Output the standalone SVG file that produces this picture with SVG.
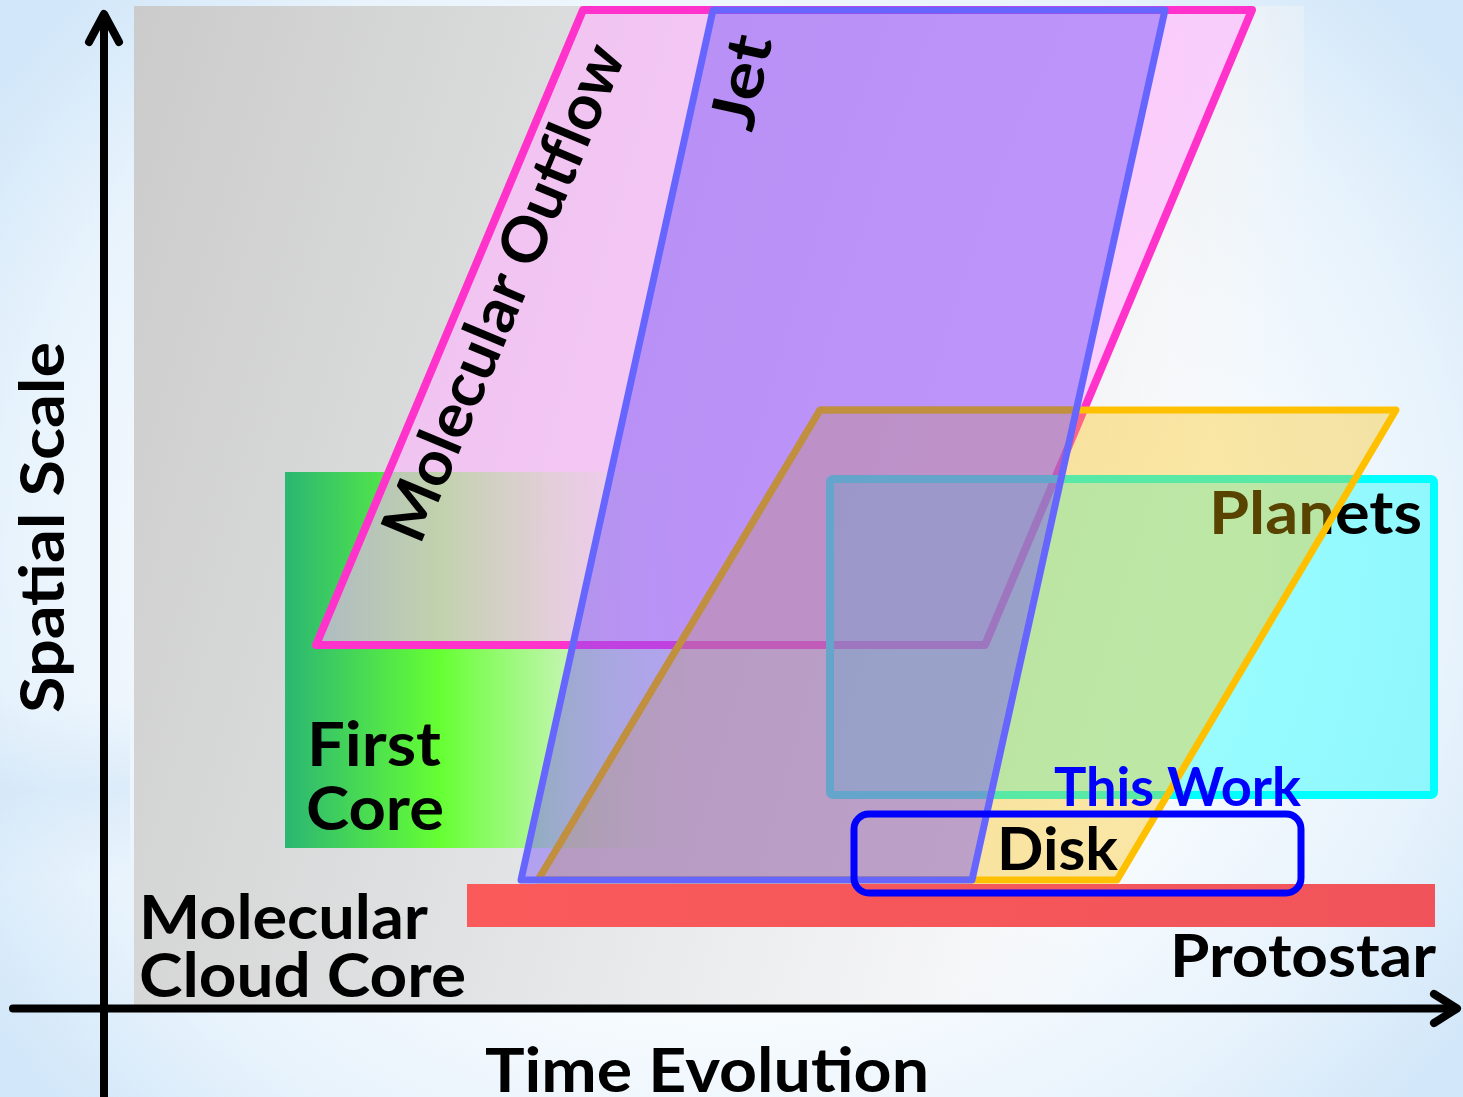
<svg xmlns="http://www.w3.org/2000/svg" width="1463" height="1097" viewBox="0 0 1463 1097">
  <defs>
    <radialGradient id="bgGrad" cx="731" cy="560" r="900" gradientUnits="userSpaceOnUse" gradientTransform="translate(731 560) scale(1 0.9) translate(-731 -560)">
      <stop offset="0" stop-color="#ffffff"/>
      <stop offset="0.55" stop-color="#f7fbfe"/>
      <stop offset="0.8" stop-color="#e8f3fc"/>
      <stop offset="1" stop-color="#d2e7f9"/>
    </radialGradient>
    <linearGradient id="bandGrad" x1="0" y1="0" x2="0" y2="1">
      <stop offset="0" stop-color="#c6dff5" stop-opacity="0"/>
      <stop offset="0.5" stop-color="#c6dff5" stop-opacity="0.7"/>
      <stop offset="1" stop-color="#c6dff5" stop-opacity="0"/>
    </linearGradient>
    <linearGradient id="cloudGrad" x1="0" y1="0" x2="1" y2="0.25">
      <stop offset="0" stop-color="#cbcbcb"/>
      <stop offset="0.5" stop-color="#e2e3e4"/>
      <stop offset="0.85" stop-color="#f3f3f4" stop-opacity="0.9"/>
      <stop offset="1" stop-color="#f6f6f6" stop-opacity="0"/>
    </linearGradient>
    <linearGradient id="firstGrad" x1="0" y1="0" x2="1" y2="0">
      <stop offset="0" stop-color="#2bb673"/>
      <stop offset="0.37" stop-color="#66ff33"/>
      <stop offset="0.65" stop-color="#b8f8a0" stop-opacity="0.9"/>
      <stop offset="1" stop-color="#e8f0e8" stop-opacity="0"/>
    </linearGradient>
    <linearGradient id="starGrad" x1="0" y1="0" x2="1" y2="0">
      <stop offset="0" stop-color="#fa5a5a"/>
      <stop offset="1" stop-color="#f0545a"/>
    </linearGradient>
    <clipPath id="jetClip">
      <polygon points="713,10 1165,10 972,880 521,880"/>
    </clipPath>
    <style>
      .lbl { font-family: Lato, "Open Sans", "Liberation Sans", sans-serif; font-weight: bold; fill: #000; }
      .axis { fill: none; stroke: #000; stroke-width: 8; stroke-linecap: round; stroke-linejoin: round; }
      .outflow { fill: #ffb4ff; fill-opacity: 0.6; stroke: #ff33cc; stroke-width: 8; stroke-linejoin: round; }
      .planets { fill: #00ffff; fill-opacity: 0.38; stroke: #00ffff; stroke-width: 8; stroke-linejoin: round; }
      .disk { fill: #ffc000; fill-opacity: 0.35; stroke: #ffc000; stroke-width: 7; stroke-linejoin: round; }
      .jet { fill: #7450f8; fill-opacity: 0.45; stroke: none; }
      .jet-edge { fill: none; stroke: #6666ff; stroke-width: 7; stroke-linejoin: round; }
      .disk-under-jet { fill: none; stroke: #c0903f; stroke-width: 7; stroke-linejoin: round; }
      .thiswork { fill: none; stroke: #0000ff; stroke-width: 7; }
    </style>
  </defs>

  <!-- backdrop -->
  <rect x="0" y="0" width="1463" height="1097" fill="url(#bgGrad)"/>
  <rect x="0" y="700" width="130" height="180" fill="url(#bandGrad)" opacity="0.6"/>

  <!-- molecular cloud core region -->
  <g id="cloud-core">
    <rect x="134" y="6" width="1170" height="1000" fill="url(#cloudGrad)"/>
  </g>

  <!-- first core -->
  <g id="first-core">
    <rect x="285" y="472" width="420" height="376" fill="url(#firstGrad)"/>
  </g>

  <!-- molecular outflow -->
  <g id="outflow">
    <polygon class="outflow" points="583,10 1252,10 985,645 316,645"/>
  </g>

  <!-- planets -->
  <g id="planets">
    <rect class="planets" x="830" y="479" width="604" height="316" rx="3"/>
    <text class="lbl" x="1209" y="534" font-size="60" textLength="213" lengthAdjust="spacingAndGlyphs">Planets</text>
  </g>

  <!-- disk -->
  <g id="disk">
    <polygon class="disk" points="820,410 1396,410 1117,880 538,880"/>
  </g>

  <!-- jet: tinted fill, the disk outline seen through it, then its own edge -->
  <g id="jet">
    <polygon class="jet" points="713,10 1165,10 972,880 521,880"/>
    <g clip-path="url(#jetClip)">
      <polygon class="disk-under-jet" points="820,410 1396,410 1117,880 538,880"/>
    </g>
    <polygon class="jet-edge" points="713,10 1165,10 972,880 521,880"/>
  </g>

  <!-- protostar -->
  <g id="protostar">
    <rect x="467" y="884" width="968" height="43" fill="url(#starGrad)"/>
  </g>

  <!-- highlighted region -->
  <g id="this-work">
    <rect class="thiswork" x="854" y="814" width="447" height="79" rx="15"/>
  </g>

  <!-- axes -->
  <g id="connectors">
    <path class="axis" d="M104,16 V1097"/>
    <path class="axis" d="M89,42 L104,14 L119,42"/>
    <path class="axis" d="M13,1008.5 H1456"/>
    <path class="axis" d="M1434,994 L1457,1008.5 L1434,1023"/>
  </g>

  <!-- labels -->
  <g id="labels">
    <text class="lbl" font-size="62" transform="translate(420,546) rotate(-67.2)" textLength="532" lengthAdjust="spacingAndGlyphs">Molecular Outflow</text>
    <text class="lbl" font-size="62" transform="translate(752,133) rotate(-77.5)" textLength="95" lengthAdjust="spacingAndGlyphs">Jet</text>
    <text class="lbl" font-size="62" x="307" y="766" textLength="134" lengthAdjust="spacingAndGlyphs">First</text>
    <text class="lbl" font-size="62" x="306" y="830" textLength="138" lengthAdjust="spacingAndGlyphs">Core</text>
    <text class="lbl" font-size="62" x="139" y="939" textLength="289" lengthAdjust="spacingAndGlyphs">Molecular</text>
    <text class="lbl" font-size="62" x="139" y="997" textLength="327" lengthAdjust="spacingAndGlyphs">Cloud Core</text>
    <text class="lbl" font-size="60" x="997" y="870" textLength="121" lengthAdjust="spacingAndGlyphs">Disk</text>
    <text class="lbl" font-size="53" x="1054" y="806" textLength="247" lengthAdjust="spacingAndGlyphs" style="fill:#0000ff">This Work</text>
    <text class="lbl" font-size="60" x="1170" y="977" textLength="266" lengthAdjust="spacingAndGlyphs">Protostar</text>
    <text class="lbl" font-size="62" x="485" y="1092" textLength="444" lengthAdjust="spacingAndGlyphs">Time Evolution</text>
    <text class="lbl" font-size="62" transform="translate(64,713) rotate(-90)" textLength="371" lengthAdjust="spacingAndGlyphs">Spatial Scale</text>
  </g>
</svg>
